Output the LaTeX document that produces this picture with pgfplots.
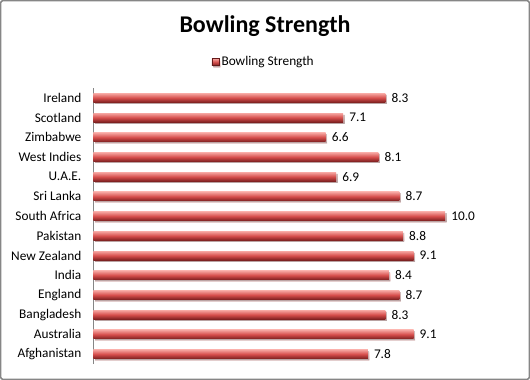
\documentclass[border=0pt]{standalone}
\usepackage{pgfplots}
\pgfplotsset{compat=1.18}
\usepackage{fontspec}
\setmainfont{Carlito}
\definecolor{barTop}{RGB}{246,165,160}
\definecolor{barMid}{RGB}{214,78,76}
\definecolor{barBot}{RGB}{125,32,32}
\definecolor{frame}{RGB}{134,134,134}
\pgfplotsset{cyl/.style={draw=none, top color=barTop, bottom color=barBot, middle color=barMid,
  preaction={fill=black, opacity=0.22, transform canvas={xshift=1.5pt,yshift=-1.5pt}}}}
\begin{document}
\begin{tikzpicture}
\begin{axis}[name=ax, scale only axis, width=422pt, height=276pt,
  xbar, bar shift=0pt, xmin=0, xmax=12, ymin=-0.5, ymax=13.5,
  axis x line=none, axis y line*=left,
  y axis line style={draw=frame, line width=0.8pt, -},
  ytick={0,...,13},
  yticklabels={Afghanistan,Australia,Bangladesh,England,India,New Zealand,Pakistan,South Africa,Sri Lanka,U.A.E.,West Indies,Zimbabwe,Scotland,Ireland},
  major tick length=0pt,
  yticklabel style={font=\fontsize{13.3}{16}\selectfont, inner sep=0pt, xshift=-12pt},
  bar width=9pt,
  /pgf/number format/assume math mode=true,
  nodes near coords={\pgfmathprintnumber[fixed,fixed zerofill,precision=1,assume math mode=true]{\pgfplotspointmeta}},
  nodes near coords style={font=\fontsize{13.3}{16}\selectfont, inner sep=0pt, anchor=west, xshift=6pt, text=black},
  legend style={at={(0.404,1.094)}, anchor=center, draw=none, fill=none,
    font=\fontsize{13.3}{16}\selectfont, nodes={inner xsep=2.5pt, inner ysep=0pt}},
  legend image code/.code={\shade[top color=barTop,bottom color=barBot,middle color=barMid,draw=barBot!80!black,line width=0.3pt] (0pt,-3.5pt) rectangle (7pt,3.5pt);},
  clip=false,
]
\addplot[cyl] coordinates {(7.8,0)};
\addlegendentry{Bowling Strength}
\addplot[cyl, forget plot] coordinates {(9.1,1)};
\addplot[cyl, forget plot] coordinates {(8.3,2)};
\addplot[cyl, forget plot] coordinates {(8.7,3)};
\addplot[cyl, forget plot] coordinates {(8.4,4)};
\addplot[cyl, forget plot] coordinates {(9.1,5)};
\addplot[cyl, forget plot] coordinates {(8.8,6)};
\addplot[cyl, forget plot] coordinates {(10.0,7)};
\addplot[cyl, forget plot] coordinates {(8.7,8)};
\addplot[cyl, forget plot] coordinates {(6.9,9)};
\addplot[cyl, forget plot] coordinates {(8.1,10)};
\addplot[cyl, forget plot] coordinates {(6.6,11)};
\addplot[cyl, forget plot] coordinates {(7.1,12)};
\addplot[cyl, forget plot] coordinates {(8.3,13)};
\end{axis}
\node[anchor=base, font=\fontsize{24}{28}\selectfont\bfseries, inner sep=0pt]
  at ([shift={(171.5pt,331.5pt)}]ax.south west) {Bowling Strength};
\draw[frame, line width=1.5pt, rounded corners=2pt]
  ([shift={(-92.75pt,-15.25pt)}]ax.south west) rectangle ([shift={(435.75pt,363.25pt)}]ax.south west);
\end{tikzpicture}
\end{document}
